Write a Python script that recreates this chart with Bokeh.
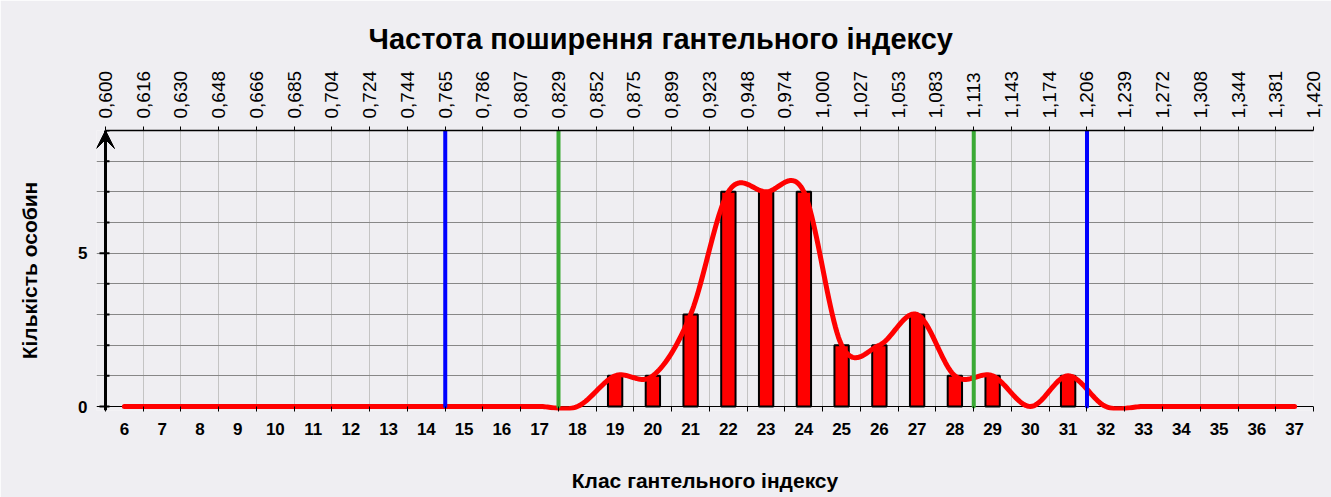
import math
import numpy as np
from bokeh.plotting import figure
from bokeh.models import Range1d, LinearAxis, FixedTicker, Grid, Arrow, VeeHead
from bokeh.embed import file_html
from bokeh.resources import INLINE

# ---- data ----
classes = [6, 7, 8, 9, 10, 11, 12, 13, 14, 15, 16, 17, 18, 19, 20, 21,
           22, 23, 24, 25, 26, 27, 28, 29, 30, 31, 32, 33, 34, 35, 36, 37]
counts = [0, 0, 0, 0, 0, 0, 0, 0, 0, 0, 0, 0, 0, 1, 1, 3,
          7, 7, 7, 2, 2, 3, 1, 1, 0, 1, 0, 0, 0, 0, 0, 0]
index_bounds = ["0,600", "0,616", "0,630", "0,648", "0,666", "0,685", "0,704",
                "0,724", "0,744", "0,765", "0,786", "0,807", "0,829", "0,852",
                "0,875", "0,899", "0,923", "0,948", "0,974", "1,000", "1,027",
                "1,053", "1,083", "1,113", "1,143", "1,174", "1,206", "1,239",
                "1,272", "1,308", "1,344", "1,381", "1,420"]
blue_marks = ["0,765", "1,206"]
green_marks = ["0,829", "1,113"]
y_major = [0, 5]
y_max = 9

title_text = "Частота поширення гантельного індексу"
x_title = "Клас гантельного індексу"
y_title = "Кількість особин"

FONT = "Liberation Sans"
BG = "#efeef2"

# ---- smoothed curve (Excel-like Bezier smoothing through the data points) ----
def smooth(xs, ys, n=24):
    P = np.column_stack([xs, ys]).astype(float)
    E = np.vstack([P[0], P, P[-1]])
    out = []
    for i in range(len(P) - 1):
        p0, p1, p2, p3 = E[i], E[i + 1], E[i + 2], E[i + 3]
        c1 = p1 + (p2 - p0) / 6.0
        c2 = p2 - (p3 - p1) / 6.0
        t = np.linspace(0, 1, n, endpoint=(i == len(P) - 2))[:, None]
        seg = (1 - t) ** 3 * p1 + 3 * (1 - t) ** 2 * t * c1 + 3 * (1 - t) * t ** 2 * c2 + t ** 3 * p2
        out.append(seg)
    return np.vstack(out)

curve = smooth(classes, counts)

boundaries = [c - 0.5 for c in classes] + [classes[-1] + 0.5]
x0, x1 = boundaries[0], boundaries[-1]
pad = 0.2384   # small free margin left of the y axis line (room for the arrow head)

p = figure(width=1331, height=497, output_backend="svg", toolbar_location=None,
           x_range=Range1d(x0 - pad, x1), y_range=Range1d(-0.13, y_max),
           min_border_left=96, min_border_right=18, min_border_top=130, min_border_bottom=87,
           background_fill_color=BG, border_fill_color=BG, outline_line_color=None,
           title=title_text)
p.extra_x_ranges = {"bounds": Range1d(0 - pad, len(index_bounds) - 1)}

p.title.text_font = FONT
p.title.text_font_size = "29px"
p.title.text_font_style = "bold"
p.title.text_color = "black"
p.title.align = "left"
p.title.offset = 272
p.title.standoff = 25

# bottom axis
xa = p.xaxis[0]
xa.ticker = FixedTicker(ticks=classes, minor_ticks=boundaries)
xa.axis_line_color = None
xa.major_tick_line_color = None
xa.major_tick_out = 0
xa.major_tick_in = 0
xa.minor_tick_line_color = "black"
xa.minor_tick_in = 4
xa.minor_tick_out = 1
xa.major_label_standoff = 11
xa.major_label_text_font = FONT
xa.major_label_text_font_size = "17px"
xa.major_label_text_font_style = "bold"
xa.major_label_text_color = "black"
xa.axis_label = x_title
xa.axis_label_text_font = FONT
xa.axis_label_text_font_size = "21px"
xa.axis_label_text_font_style = "bold"
xa.axis_label_text_color = "black"
xa.axis_label_standoff = 31

# left axis: labels only (line and ticks are drawn at the first class boundary)
ya = p.yaxis[0]
ya.ticker = FixedTicker(ticks=y_major)
ya.axis_line_color = None
ya.major_tick_line_color = None
ya.minor_tick_line_color = None
ya.major_tick_out = 0
ya.major_tick_in = 0
ya.major_label_standoff = 9
ya.major_label_text_font = FONT
ya.major_label_text_font_size = "17px"
ya.major_label_text_font_style = "bold"
ya.major_label_text_color = "black"
ya.axis_label = y_title
ya.axis_label_text_font = FONT
ya.axis_label_text_font_size = "21px"
ya.axis_label_text_font_style = "bold"
ya.axis_label_text_color = "black"
ya.axis_label_standoff = 34

# top axis (index class bounds)
top = LinearAxis(x_range_name="bounds",
                 ticker=FixedTicker(ticks=list(range(len(index_bounds)))),
                 major_label_overrides={i: s for i, s in enumerate(index_bounds)},
                 major_label_orientation="vertical",
                 bounds=(0, len(index_bounds) - 1))
top.axis_line_color = "black"
top.axis_line_width = 1.5
top.major_tick_line_color = "black"
top.major_tick_out = 4
top.major_tick_in = 0
top.minor_tick_line_color = None
top.major_label_standoff = 8
top.major_label_text_font = FONT
top.major_label_text_font_size = "19px"
top.major_label_text_color = "black"
p.add_layout(top, "above")

# grids
p.xgrid.ticker = FixedTicker(ticks=boundaries[1:-1])
p.xgrid.grid_line_color = "#c4c4c4"
p.xgrid.grid_line_width = 1
p.ygrid.ticker = FixedTicker(ticks=list(range(1, y_max + 1)))
p.ygrid.grid_line_color = "#878787"
p.ygrid.grid_line_width = 1
p.ygrid.bounds = (x0, x1)
p.add_layout(Grid(dimension=1, ticker=FixedTicker(ticks=[0]), bounds=(x0, x1),
                  grid_line_color="black", grid_line_width=1))
p.add_layout(Grid(dimension=0, ticker=FixedTicker(ticks=[x1]),
                  grid_line_color="#8a8a8a", grid_line_width=1))
# the y axis line itself
p.add_layout(Grid(dimension=0, ticker=FixedTicker(ticks=[x0]),
                  grid_line_color="black", grid_line_width=3))

# y axis tick marks
all_y = list(range(0, y_max + 1))
p.ray(x=[x0] * len(all_y), y=all_y, length=4, angle=0, length_units="screen",
      line_color="black", line_width=2)
p.ray(x=[x0] * len(y_major), y=y_major, length=6, angle=math.pi, length_units="screen",
      line_color="black", line_width=2)

# bars
bx = [c for c, v in zip(classes, counts) if v > 0]
bv = [v for v in counts if v > 0]
p.vbar(x=bx, top=bv, bottom=0, width=0.38, fill_color="#ff0000",
       line_color="black", line_width=2)

# smoothed frequency curve
p.line(curve[:, 0], curve[:, 1], line_color="#ff0000", line_width=5,
       line_cap="round", line_join="round")

# limit lines
bpos = [index_bounds.index(s) for s in blue_marks]
gpos = [index_bounds.index(s) for s in green_marks]
p.segment(x0=bpos, y0=[0] * len(bpos), x1=bpos, y1=[y_max] * len(bpos),
          x_range_name="bounds", line_color="#0000ff", line_width=4, line_cap="round")
p.segment(x0=gpos, y0=[0] * len(gpos), x1=gpos, y1=[y_max] * len(gpos),
          x_range_name="bounds", line_color="#3aaa35", line_width=4, line_cap="round")

# arrow head on the y axis
p.add_layout(Arrow(end=VeeHead(size=18, fill_color="black", line_color="black", line_width=1),
                   x_start=x0, y_start=y_max - 1, x_end=x0, y_end=y_max,
                   line_color="black", line_width=3))

open("out.html", "w").write(file_html(p, INLINE))
